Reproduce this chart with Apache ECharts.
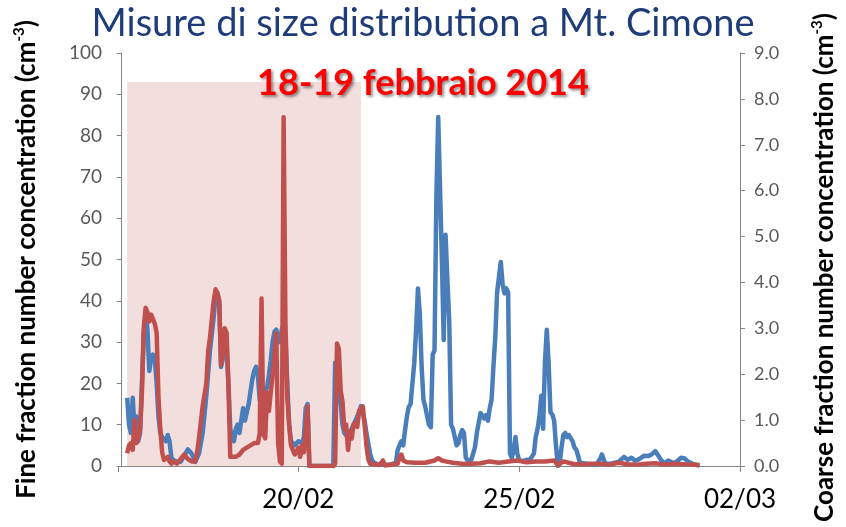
<!DOCTYPE html>
<html>
<head>
<meta charset="utf-8">
<title>Misure di size distribution a Mt. Cimone</title>
<script src="https://cdn.jsdelivr.net/npm/echarts@6/dist/echarts.min.js"></script>
<style>
  html, body { margin: 0; padding: 0; background: #ffffff; }
  #chart { width: 846px; height: 527px; }
</style>
</head>
<body>
<div id="chart"></div>
<script>
// Time is expressed in hours since 16/02/2014 00:00.
const dayTickHours = [96, 216, 336];
const dayTickLabels = ['20/02', '25/02', '02/03'];

// Fine fraction number concentration (cm-3), left axis
const fineHours = [3,4,5,6,7,8,9,10,11,12,13,14,15,16,17,18,19,20,21,22,23,24,25,26,27,28,30,32,34,36,38,40,42,44,46,48,50,51,52,53,54,55,56,57,58,59,60,61,62,63,64,65,66,67,68,69,70,71,72,73,74,75,76,77,78,79,80,81,82,83,84,85,86,87,88,89,90,91,92,93,94,95,96,97,98,99,100,101,102,115,116,117,118,119,120,121,122,123,124,125,126,127,128,129,130,131,132,133,134,135,136,137,138,140,146,149,150,151,152,153,154,155,156,157,158,159,160,161,162,163,164,165,166,167,168,169,170,171,172,173,174,175,176,177,178,179,180,181,182,183,184,185,186,187,188,190,192,193,195,196,197,198,199,200,201,202,203,204,205,206,207,208,209,210,211,212,213,214,215,216,218,220,222,224,225,226,227,228,229,230,231,232,233,234,235,236,237,238,239,240,241,242,243,244,245,246,247,248,249,250,255,258,260,261,262,263,266,270,273,275,277,279,281,284,286,288,290,291,293,295,297,298,300,302,304,306,308,310,312,314];
const fineValues = [16.5,10,8,16.5,9,12,6,8,20,32,37,33,23,26,27,26,20,12,8,7,6.5,6,7.5,6,2,1.5,1,1,2.5,4,3,1,3,8,17,28,36,41,42,40,24,26,33,29,20,9,7,6,9,10,8,11,14,11,13,15,18,21,23,24,22,16,15,17,18,19,22,25.6,30,32.5,33,31,30,33,34,31,20,10,6,5.5,5,5.5,6,6.3,5.5,7,14,15,0,0,25,20,16,15,10,8,7.5,6.5,7,9,10,11,12,13,14.5,14.8,11,8,5.5,3,1.5,0.8,0.5,0.3,0.3,0.8,3.9,5,6,5,8.7,12,14.3,15,20,25,33,43,37,24,16,14.3,12,10,9.4,27,28,65,84.5,84.5,50,30.5,56,45,35,10,9,7,5,5.5,7.5,8.7,8,2,1.4,1.5,4.6,8,12.8,12.4,11.5,12.3,11,14,16,24,31,42,45.7,49.4,44,41.8,43,42,3,2,4,7,3,1.4,1.2,1.5,1.6,3,7,9,12,17,9,25,33,25,13,12.5,11,5,0,0.5,4.5,7.5,8,7,7.5,7.5,6,4.5,4,2.5,0.8,0.5,0.4,0.3,1.8,2.8,1.5,0.5,0.6,1,2.2,1.5,2,1.3,1.6,2.5,2.4,2.8,3.6,3.2,1.5,0.6,1.3,1.6,0.7,1.2,2,1.8,1,0.6,0.3,0.1];

// Coarse fraction number concentration (cm-3), right axis
const coarseHours = [3,4,5,6,7,8,9,10,11,12,13,14,15,16,17,18,19,20,21,22,23,24,25,26,27,28,30,32,34,36,38,40,41,42,44,46,47,48,50,51,52,53,54,55,56,57,58,59,60,62,64,66,68,70,72,74,75,76,77,78,79,80,81,82,83,84,85,86,87,88,89,90,91,92,93,94,95,96,97,98,99,100,101,102,115,116,117,118,119,120,121,122,123,124,125,126,127,128,129,130,131,132,133,134,135,136,140,142,143,150,151,152,153,155,160,165,170,172,174,176,180,185,190,195,200,205,210,215,220,225,230,235,237,240,245,250,255,260,265,270,275,280,285,290,295,300,305,310,314];
const coarseValues = [0.28,0.45,0.5,0.35,1.0,0.5,0.6,0.8,1.6,3.0,3.45,3.35,3.15,3.3,3.2,3.1,2.9,1.5,0.8,0.3,0.13,0.12,0.2,0.1,0.05,0.1,0.05,0.15,0.25,0.15,0.1,0.1,0.3,0.6,1.3,1.8,2.5,2.8,3.6,3.85,3.75,3.6,2.2,2.5,3.0,2.9,1.8,0.2,0.2,0.2,0.25,0.35,0.4,0.45,0.5,0.5,0.7,3.65,0.7,0.6,1.6,1.2,1.6,2.0,2.4,2.9,0.5,0.1,0.05,7.6,3.1,1.5,0.9,0.45,0.35,0.25,0.3,0.4,0.2,0.45,0.3,0.3,1.3,0,0,0.05,2.67,2.55,1.65,1.4,0.8,0.9,0.35,0.75,0.6,0.9,0.95,0.85,1.2,1.25,1.3,0.9,0.45,0.15,0.05,0.02,0.02,0.12,0.01,0.05,0.2,0.25,0.12,0.08,0.07,0.07,0.12,0.17,0.12,0.1,0.07,0.05,0.05,0.06,0.1,0.07,0.1,0.12,0.08,0.1,0.1,0.12,0.02,0.1,0.05,0.03,0.05,0.05,0.03,0.07,0.04,0.03,0.05,0.06,0.03,0.05,0.04,0.03,0.02];

// Highlighted 18-19 February window (hours) and its upper bound on the fine axis
const windowStart = 3;
const windowEnd = 130;
const windowTop = 93;

const pair = (xs, ys) => xs.map((x, i) => [x, ys[i]]);

const FONT = 'Lato, "Open Sans", sans-serif';
const AXIS_GREY = '#868686';

const chart = echarts.init(document.getElementById('chart'), null, { renderer: 'canvas' });

chart.setOption({
  animation: false,
  backgroundColor: '#ffffff',
  title: [
    {
      text: 'Misure di size distribution a Mt. Cimone',
      left: 'center',
      top: 0,
      textStyle: { fontFamily: FONT, fontSize: 38, fontWeight: 'normal', color: '#1F3C7A' }
    },
    {
      text: '18-19 febbraio 2014',
      left: 'center',
      top: 60,
      textStyle: {
        fontFamily: FONT, fontSize: 36, fontWeight: 'bold', color: '#FF0000',
        textShadowColor: 'rgba(0,0,0,0.45)', textShadowBlur: 3,
        textShadowOffsetX: 2, textShadowOffsetY: 2
      }
    }
  ],
  grid: { left: 118, right: 101, top: 53, bottom: 61, containLabel: false },
  xAxis: {
    type: 'value',
    min: -2,
    max: 336,
    splitLine: { show: false },
    axisLine: { lineStyle: { color: AXIS_GREY, width: 1 } },
    axisTick: { show: true, length: 6, lineStyle: { color: AXIS_GREY }, customValues: [-2].concat(dayTickHours) },
    axisLabel: {
      customValues: dayTickHours,
      formatter: v => dayTickLabels[dayTickHours.indexOf(v)] || '',
      margin: 21,
      fontFamily: FONT, fontSize: 26, color: '#000000'
    }
  },
  yAxis: [
    {
      type: 'value',
      position: 'left',
      min: 0, max: 100, interval: 10,
      name: 'Fine fraction number concentration (cm{sup|-3})',
      nameLocation: 'middle',
      nameRotate: 90,
      nameGap: 76,
      nameTextStyle: {
        fontFamily: FONT, fontSize: 26, fontWeight: 'bold', color: '#000000',
        rich: { sup: { fontFamily: FONT, fontSize: 15, fontWeight: 'bold', color: '#000000', verticalAlign: 'top', lineHeight: 30 } }
      },
      splitLine: { show: false },
      axisLine: { show: true, lineStyle: { color: AXIS_GREY } },
      axisTick: { show: true, length: 5, lineStyle: { color: AXIS_GREY } },
      axisLabel: { margin: 16, fontFamily: FONT, fontSize: 19, color: '#595959' }
    },
    {
      type: 'value',
      position: 'right',
      min: 0, max: 9, interval: 1,
      name: 'Coarse fraction number concentration (cm{sup|-3})',
      nameLocation: 'middle',
      nameRotate: 90,
      nameGap: 70,
      nameTextStyle: {
        fontFamily: FONT, fontSize: 26, fontWeight: 'bold', color: '#000000',
        padding: [0, 16, 0, 0],
        rich: { sup: { fontFamily: FONT, fontSize: 15, fontWeight: 'bold', color: '#000000', verticalAlign: 'top', lineHeight: 30 } }
      },
      splitLine: { show: false },
      axisLine: { show: true, lineStyle: { color: AXIS_GREY } },
      axisTick: { show: true, length: 5, lineStyle: { color: AXIS_GREY } },
      axisLabel: { margin: 14, fontFamily: FONT, fontSize: 18, color: '#595959', formatter: v => v.toFixed(1) }
    }
  ],
  series: [
    {
      name: 'window',
      type: 'line',
      yAxisIndex: 0,
      data: [],
      z: 1,
      silent: true,
      markArea: {
        silent: true,
        itemStyle: { color: '#F2DEDC' },
        data: [[{ coord: [windowStart, -1] }, { coord: [windowEnd, windowTop] }]]
      }
    },
    {
      name: 'Fine',
      type: 'line',
      yAxisIndex: 0,
      data: pair(fineHours, fineValues),
      showSymbol: false,
      z: 3,
      lineStyle: { color: '#4A7EBB', width: 4.5, join: 'round' },
      itemStyle: { color: '#4A7EBB' }
    },
    {
      name: 'Coarse',
      type: 'line',
      yAxisIndex: 1,
      data: pair(coarseHours, coarseValues),
      showSymbol: false,
      z: 4,
      lineStyle: { color: '#C0504D', width: 4.5, join: 'round' },
      itemStyle: { color: '#C0504D' }
    }
  ]
});
</script>
</body>
</html>
